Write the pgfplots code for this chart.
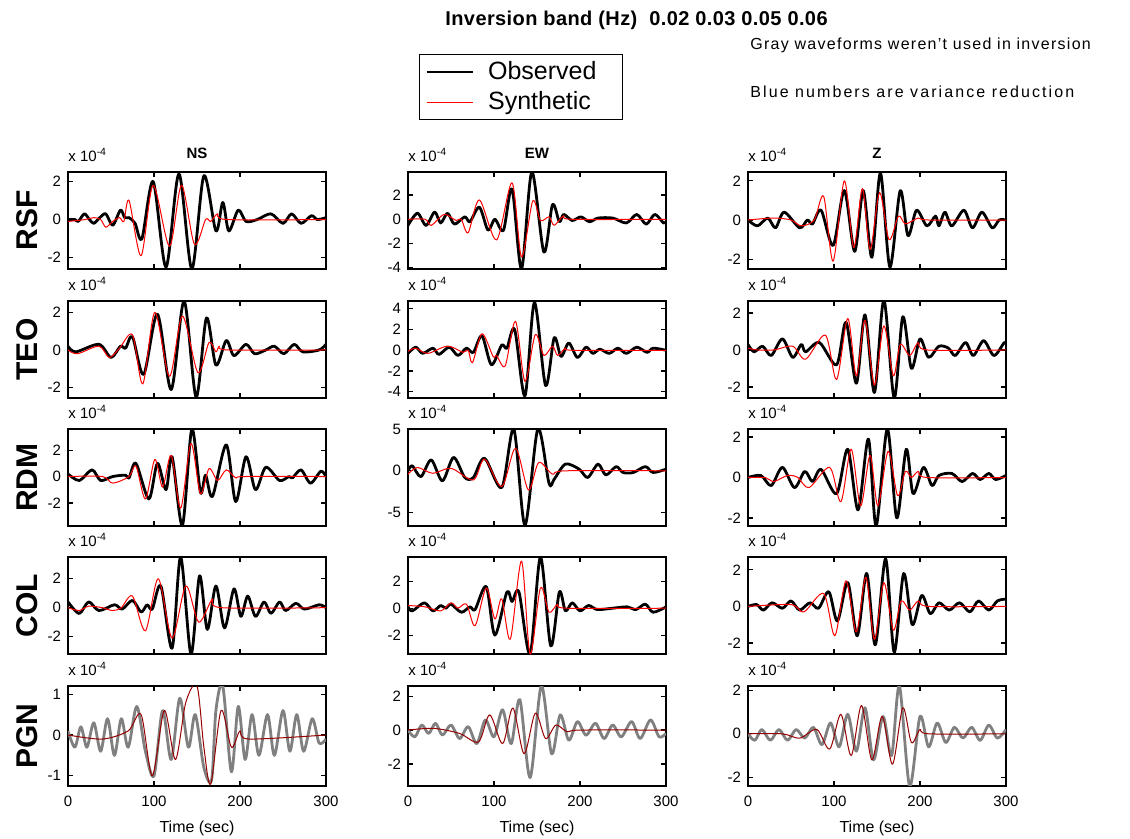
\documentclass[border=0pt]{standalone}
\usepackage{fontspec}
\setmainfont{Liberation Sans}
\usepackage{pgfplots}
\pgfplotsset{compat=1.18}
\definecolor{darkred}{RGB}{150,0,0}
\definecolor{wgray}{RGB}{128,128,128}
\pgfplotsset{
 wave/.style={anchor=north west, scale only axis, width=129pt, height=48.5pt,
   xmin=0, xmax=300, xtick={0,100,200,300}, xticklabels={},
   tick align=inside, tick pos=both, axis line style={line width=0.6pt},
   major tick style={line width=0.6pt, black}, major tick length=2.5pt,
   tick label style={font=\fontsize{7.5}{8}\selectfont},
   /pgf/number format/assume math mode=true, scaled y ticks=false,
   clip mode=individual,
   ylabel style={font=\bfseries\fontsize{15}{15}\selectfont, yshift=-2pt},
   title style={font=\bfseries\fontsize{7.5}{8}\selectfont, yshift=-3pt},
   xlabel style={font=\fontsize{8}{9}\selectfont, yshift=0pt}},
 bottom/.style={xticklabels={0,100,200,300}, xlabel={Time (sec)}, height=50pt,
   xticklabel style={yshift=-1.5pt}},
 obs/.style={black, line width=1.4pt, line join=round, smooth, tension=0.5},
 syn/.style={red, line width=0.5pt, line join=round, smooth, tension=0.5},
 gobs/.style={wgray, line width=1.4pt, line join=round, smooth, tension=0.5},
 dsyn/.style={darkred, line width=0.5pt, line join=round, smooth, tension=0.5},
}
\newcommand\expo{\node[anchor=south west, inner sep=0pt, font=\fontsize{7.5}{8}\selectfont] at (rel axis cs:0,1) [yshift=5pt] {x 10\textsuperscript{-4}};}
\begin{document}
\begin{tikzpicture}
\useasboundingbox (0,0) rectangle (565pt,-419.5pt);
\node[anchor=base west, inner sep=0pt, font=\bfseries\fontsize{10}{11}\selectfont\addfontfeature{LetterSpace=2}] at (222.5pt,-13pt) {Inversion band (Hz)\ \ 0.02 0.03 0.05 0.06};
\node[anchor=base west, inner sep=0pt, font=\fontsize{8}{9}\selectfont\addfontfeature{LetterSpace=8}] at (375pt,-25pt) {Gray waveforms weren't used in inversion};
\node[anchor=base west, inner sep=0pt, font=\fontsize{8}{9}\selectfont\addfontfeature{LetterSpace=13}] at (375pt,-49pt) {Blue numbers are variance reduction};

% ===== Row 1: RSF =====
\begin{axis}[wave, at={(34pt,-86pt)}, ymin=-2.6, ymax=2.5, ytick={-2,0,2}, ylabel={RSF}, title={NS},
  legend style={at={(1.359,2.219)}, anchor=north west, draw=black, line width=0.6pt, font=\fontsize{12.5}{13}\selectfont, inner xsep=3pt, inner ysep=1.5pt, row sep=0.5pt, cells={anchor=west}},
  legend image code/.code={\draw[#1] (0cm,0cm) -- (0.81cm,0cm);}]
\addplot[obs] coordinates {(0,0)(8,0)(12,-0.1)(19,0.3)(25,0)(30,-0.2)(37,0.1)(44,0.3)(52,-0.3)(61,0.5)(66,0.1)(71,0.1)(78,-0.2)(86,-1.0)(99,2.0)(114,-2.5)(129,2.4)(144,-2.6)(158,2.3)(172,-0.6)(180,0.9)(187,-0.6)(198,0.5)(207,-0.1)(220,0)(236,0.3)(250,-0.2)(260,0.3)(271,-0.2)(283,0.2)(290,0)(300,0.1)};
\addlegendentry{\hspace*{5pt}\makebox[62pt][l]{Observed}}
\addplot[syn] coordinates {(0,-0.1)(20,0)(30,0.1)(38,0)(44,-0.4)(52,-0.1)(60,0.1)(65,-0.1)(71,1.0)(85,-1.9)(99,1.8)(118,-1.4)(132,1.8)(147,-1.3)(160,0)(166,-0.1)(174,0.3)(185,0)(300,0)};
\addlegendentry{\hspace*{5pt}Synthetic}
\expo
\end{axis}
\begin{axis}[wave, at={(204pt,-86pt)}, ymin=-4.1, ymax=3.9, ytick={-4,-2,0,2}, title={EW}]
\addplot[obs] coordinates {(0,-0.5)(11,0.5)(21,-0.5)(31,0.6)(38,-0.3)(46,0.5)(54,-0.4)(66,0.2)(72,-0.2)(83,1.0)(93,-0.9)(101,0)(111,-0.9)(121,2.5)(132,-4.1)(144,3.9)(158,-2.7)(168,1.2)(176,-0.2)(181,0.4)(191,-0.1)(201,0.2)(211,-0.2)(221,0.1)(238,0.1)(254,-0.3)(266,0.4)(277,-0.4)(287,0.4)(297,-0.3)(300,-0.2)};
\addplot[syn] coordinates {(0,0)(20,0)(27,-0.5)(42,0.4)(56,-0.1)(62,0)(70,-1.1)(83,1.6)(103,-1.7)(121,3.0)(132,-3.1)(145,1.5)(154,-0.1)(164,0.2)(170,-0.5)(181,0.3)(190,0)(300,0)};
\expo
\end{axis}
\begin{axis}[wave, at={(374pt,-86pt)}, ymin=-2.5, ymax=2.45, ytick={-2,0,2}, title={Z}]
\addplot[obs] coordinates {(0,0)(11,-0.3)(23,0.1)(32,-0.4)(42,0.4)(60,-0.4)(69,0)(75,-0.2)(85,0.5)(99,-1.3)(112,1.5)(124,-1.6)(134,1.5)(144,-1.9)(154,2.4)(165,-2.4)(177,1.5)(186,-0.8)(196,0.5)(208,-0.3)(218,0.2)(222,-0.3)(229,0.4)(237,-0.3)(251,0.5)(261,-0.4)(272,0.4)(284,-0.4)(292,0)(300,0)};
\addplot[syn] coordinates {(0,0)(30,0.1)(50,0)(62,-0.3)(77,0)(88,1.2)(99,-2.1)(112,2.0)(123,-1.4)(133,1.6)(142,-1.5)(153,1.4)(164,-1.0)(175,0.2)(183,-0.2)(198,0.1)(210,0)(300,0)};
\expo
\end{axis}

% ===== Row 2: TEO =====
\begin{axis}[wave, at={(34pt,-150.5pt)}, ymin=-2.55, ymax=2.6, ytick={-2,0,2}, ylabel={TEO}]
\addplot[obs] coordinates {(0,0.2)(9,-0.1)(36,0.3)(50,-0.4)(61,0.2)(67,0.1)(75,0.7)(88,-1.3)(104,1.9)(120,-2.1)(135,2.6)(149,-2.5)(161,1.7)(172,-0.8)(184,0.5)(193,-0.3)(207,0.3)(217,-0.2)(230,0)(240,0.2)(251,-0.2)(263,0.3)(273,-0.1)(292,0)(300,0.3)};
\addplot[syn] coordinates {(0,0)(11,-0.2)(36,0.2)(48,-0.4)(60,0.1)(75,0.8)(87,-1.8)(101,2.0)(118,-1.4)(133,1.8)(151,-1.2)(164,0.4)(172,-0.1)(176,0.2)(186,0)(300,0)};
\expo
\end{axis}
\begin{axis}[wave, at={(204pt,-150.5pt)}, ymin=-4.6, ymax=4.75, ytick={-4,-2,0,2,4}]
\addplot[obs] coordinates {(0,-0.3)(9,0.3)(17,-0.3)(29,0.2)(36,-0.4)(48,0.3)(58,-0.5)(68,0.2)(76,-0.2)(86,1.4)(97,-1.4)(109,0.5)(115,0.2)(124,2.0)(136,-4.4)(147,4.6)(160,-3.4)(170,1.2)(178,-0.6)(187,0.7)(197,-0.7)(207,0.3)(215,-0.3)(223,0.1)(234,-0.3)(244,0.2)(254,-0.3)(266,0.3)(278,-0.2)(285,0.2)(300,0)};
\addplot[syn] coordinates {(0,-0.1)(9,0.2)(23,-0.3)(46,0.4)(64,-0.2)(70,0)(75,-1.2)(86,1.6)(99,-0.6)(103,-0.5)(113,-1.5)(125,2.8)(136,-3.0)(148,1.5)(158,-0.5)(168,0.4)(174,-0.5)(183,0.2)(192,0)(300,0)};
\expo
\end{axis}
\begin{axis}[wave, at={(374pt,-150.5pt)}, ymin=-2.6, ymax=2.65, ytick={-2,0,2}]
\addplot[obs] coordinates {(0,0.3)(7,-0.1)(17,0.2)(27,-0.3)(40,0.6)(52,-0.4)(62,0.3)(67,-0.1)(83,0.4)(103,-0.8)(114,1.5)(126,-1.8)(136,1.9)(147,-2.3)(158,2.7)(170,-2.6)(180,1.8)(190,-1.0)(200,0.6)(210,-0.4)(222,0.2)(233,0.1)(241,-0.3)(253,0.4)(262,-0.3)(274,0.5)(286,-0.3)(298,0.4)(300,0.3)};
\addplot[syn] coordinates {(0,0.1)(11,0)(30,0)(52,0.2)(67,-0.5)(90,0.8)(103,-1.6)(116,1.7)(126,-1.4)(136,1.6)(147,-1.9)(158,1.3)(169,-1.4)(177,0.3)(188,-0.3)(198,0.4)(208,0)(300,0)};
\expo
\end{axis}

% ===== Row 3: RDM =====
\begin{axis}[wave, at={(34pt,-214.5pt)}, ymin=-3.75, ymax=3.6, ytick={-2,0,2}, ylabel={RDM}]
\addplot[obs] coordinates {(0,0.2)(13,-0.3)(28,0.5)(38,-0.3)(52,0)(67,0.1)(71,-0.1)(79,1.0)(94,-1.7)(104,1.0)(114,-1.0)(121,1.5)(133,-3.7)(144,3.6)(154,-1.2)(160,0.1)(168,-1.5)(184,2.4)(195,-1.9)(207,1.5)(218,-1.0)(230,0.7)(246,-0.3)(257,0)(261,-0.1)(271,0.5)(282,-0.5)(294,0.4)(300,0)};
\addplot[syn] coordinates {(0,0)(40,0)(52,-0.5)(71,0)(79,0.8)(90,-1.7)(101,1.3)(110,-0.8)(120,1.6)(131,-2.4)(143,2.5)(154,-1.3)(164,0.6)(174,-0.3)(184,0.5)(195,-0.1)(205,0)(300,0)};
\expo
\end{axis}
\begin{axis}[wave, at={(204pt,-214.5pt)}, ymin=-6.6, ymax=5.0, ytick={-5,0,5}]
\addplot[obs] coordinates {(0,0)(5,0.6)(15,-0.7)(27,1.3)(40,-1.2)(53,1.6)(66,-0.8)(76,-0.8)(89,1.5)(109,-2.0)(123,5.0)(136,-6.5)(151,5.0)(164,-1.5)(170,-1.0)(183,0.8)(199,0.2)(209,-0.8)(221,0.8)(230,-0.5)(242,0.5)(250,-0.2)(262,-0.2)(276,0.5)(285,-0.2)(300,0.2)};
\addplot[syn] coordinates {(0,-0.4)(11,0.4)(29,-0.3)(50,0.3)(76,-1.1)(89,1.4)(109,-1.9)(125,2.7)(140,-2.3)(152,1.0)(168,-0.4)(183,0)(300,0)};
\expo
\end{axis}
\begin{axis}[wave, at={(374pt,-214.5pt)}, ymin=-2.4, ymax=2.4, ytick={-2,0,2}]
\addplot[obs] coordinates {(0,0)(15,0.1)(27,-0.4)(40,0.5)(54,-0.5)(66,0.3)(75,-0.2)(85,0.4)(103,-0.8)(116,1.4)(128,-1.6)(140,1.9)(149,-2.4)(162,2.4)(173,-2.0)(184,1.4)(192,-0.8)(204,0.5)(214,-0.4)(222,0.1)(237,0.2)(249,-0.2)(261,0.2)(270,-0.1)(280,0.2)(288,-0.1)(300,0.1)};
\addplot[syn] coordinates {(0,0)(20,0)(30,-0.2)(46,0.1)(58,0)(71,-0.5)(95,0.5)(108,-1.2)(120,1.4)(131,-1.4)(142,1.1)(151,-1.4)(163,1.3)(174,-0.9)(183,0.3)(190,0)(198,0.3)(208,0)(300,0)};
\expo
\end{axis}

% ===== Row 4: COL =====
\begin{axis}[wave, at={(34pt,-278.5pt)}, ymin=-3.2, ymax=3.5, ytick={-2,0,2}, ylabel={COL}]
\addplot[obs] coordinates {(0,0.4)(13,-0.4)(24,0.4)(36,-0.2)(54,0.2)(63,-0.1)(75,0.5)(85,-0.3)(92,0.2)(98,-0.1)(108,1.5)(121,-2.8)(131,3.5)(143,-3.2)(153,2.2)(162,-1.5)(172,1.5)(182,-1.4)(193,1.3)(201,-0.6)(209,0.8)(218,-0.6)(228,0.4)(236,-0.4)(246,0.4)(253,-0.2)(265,0.3)(275,-0.1)(292,0.2)(300,0)};
\addplot[syn] coordinates {(0,0)(13,-0.2)(24,0.1)(40,0)(52,-0.2)(62,0)(75,0.8)(90,-1.6)(105,2.0)(121,-2.1)(137,1.5)(152,-1.0)(168,0.6)(178,0)(300,0)};
\expo
\end{axis}
\begin{axis}[wave, at={(204pt,-278.5pt)}, ymin=-3.4, ymax=3.8, ytick={-2,0,2}]
\addplot[obs] coordinates {(0,0.1)(5,-0.2)(19,0.4)(29,-0.2)(38,0.2)(44,0)(50,0.3)(62,-0.3)(72,0.1)(78,-0.1)(91,1.6)(101,-2.0)(115,1.2)(121,0.5)(129,1.2)(142,-3.4)(154,3.8)(166,-2.8)(176,1.2)(183,-0.2)(191,0.4)(200,-0.2)(210,0.2)(220,-0.1)(238,0)(255,0.1)(265,-0.1)(276,0.3)(285,-0.3)(300,0.1)};
\addplot[syn] coordinates {(0,0.2)(20,0.1)(38,-0.2)(50,0.4)(58,0)(68,0.3)(78,-1.3)(91,1.5)(101,-0.8)(109,0.7)(119,-2.3)(132,3.5)(142,-3.4)(154,1.5)(164,-0.3)(174,0.3)(184,0)(300,0)};
\expo
\end{axis}
\begin{axis}[wave, at={(374pt,-278.5pt)}, ymin=-2.6, ymax=2.7, ytick={-2,0,2}]
\addplot[obs] coordinates {(0,0)(10,0.1)(18,-0.2)(28,0.2)(40,-0.1)(50,0.3)(60,-0.2)(72,0.2)(82,-0.1)(94,0.8)(104,-0.8)(116,1.3)(127,-1.6)(138,1.8)(148,-2.1)(160,2.6)(170,-2.5)(181,1.8)(191,-1.0)(202,0.6)(212,-0.4)(222,0.2)(234,-0.2)(246,0.2)(258,-0.3)(268,0.3)(280,-0.2)(290,0.3)(300,0.4)};
\addplot[syn] coordinates {(0,0)(50,0.1)(65,-0.3)(88,0.7)(101,-1.6)(114,1.4)(126,-1.4)(137,1.6)(147,-1.8)(158,1.3)(169,-1.3)(178,0.3)(188,-0.2)(198,0.3)(210,0)(300,0)};
\expo
\end{axis}

% ===== Row 5: PGN =====
\begin{axis}[wave, bottom, at={(34pt,-343pt)}, ymin=-1.25, ymax=1.2, ytick={-1,0,1}, ylabel={PGN}]
\addplot[gobs] coordinates {(0,0.1)(8,-0.3)(15,0.2)(22,-0.3)(30,0.3)(38,-0.4)(46,0.4)(54,-0.5)(62,0.4)(70,-0.3)(80,0.7)(90,-0.4)(100,-1.0)(110,0.6)(120,-0.6)(130,0.9)(140,-0.3)(148,0.5)(158,-0.8)(167,-1.1)(172,0.6)(180,1.2)(190,-0.9)(198,0.7)(206,-0.6)(214,0.5)(222,-0.5)(232,0.5)(240,-0.5)(250,0.6)(258,-0.4)(266,0.5)(274,-0.4)(284,0.4)(292,-0.2)(300,-0.1)};
\addplot[dsyn] coordinates {(0,0)(40,-0.1)(70,0.1)(85,0.5)(98,-1.0)(112,0.6)(125,-0.6)(137,0.8)(150,1.2)(158,-0.3)(166,-1.2)(178,0.6)(190,-0.3)(200,0.1)(210,-0.1)(300,0)};
\expo
\end{axis}
\begin{axis}[wave, bottom, at={(204pt,-343pt)}, ymin=-3.3, ymax=2.6, ytick={-2,0,2}]
\addplot[gobs] coordinates {(0,0)(8,-0.4)(16,0.3)(24,-0.2)(32,0.4)(40,-0.3)(50,0.3)(60,-0.5)(70,0.2)(80,-0.8)(90,0.6)(100,-0.4)(110,1.2)(120,-0.8)(130,1.8)(142,-2.8)(155,2.6)(167,-1.4)(177,0.9)(187,-0.6)(197,0.5)(207,-0.3)(218,0.4)(228,-0.5)(238,0.3)(248,-0.4)(260,0.5)(270,-0.5)(282,0.6)(292,-0.4)(300,-0.2)};
\addplot[dsyn] coordinates {(0,0)(30,0.1)(60,-0.2)(82,-0.7)(95,0.9)(110,-0.8)(122,1.3)(135,-1.4)(148,1.0)(160,-0.5)(172,0.3)(185,-0.1)(200,0)(300,0)};
\expo
\end{axis}
\begin{axis}[wave, bottom, at={(374pt,-343pt)}, ymin=-2.4, ymax=2.2, ytick={-2,0,2}]
\addplot[gobs] coordinates {(0,0)(8,-0.3)(16,0.2)(26,-0.3)(36,0.2)(46,-0.3)(56,0.2)(66,-0.2)(76,0.3)(86,-0.5)(96,0.5)(106,-0.6)(116,0.9)(126,-0.8)(136,1.2)(146,-1.2)(157,0.8)(167,-1.0)(176,2.2)(188,-2.4)(200,0.8)(210,-0.6)(220,0.5)(230,-0.4)(240,0.3)(250,-0.2)(260,0.3)(270,-0.3)(280,0.4)(290,-0.2)(300,0.2)};
\addplot[dsyn] coordinates {(0,0)(40,0)(60,-0.2)(80,0.2)(95,-0.7)(108,0.9)(120,-1.0)(132,1.3)(144,-1.2)(156,0.8)(168,-1.4)(180,1.2)(190,-0.4)(200,0.2)(210,0)(300,0)};
\expo
\end{axis}
\end{tikzpicture}
\end{document}
